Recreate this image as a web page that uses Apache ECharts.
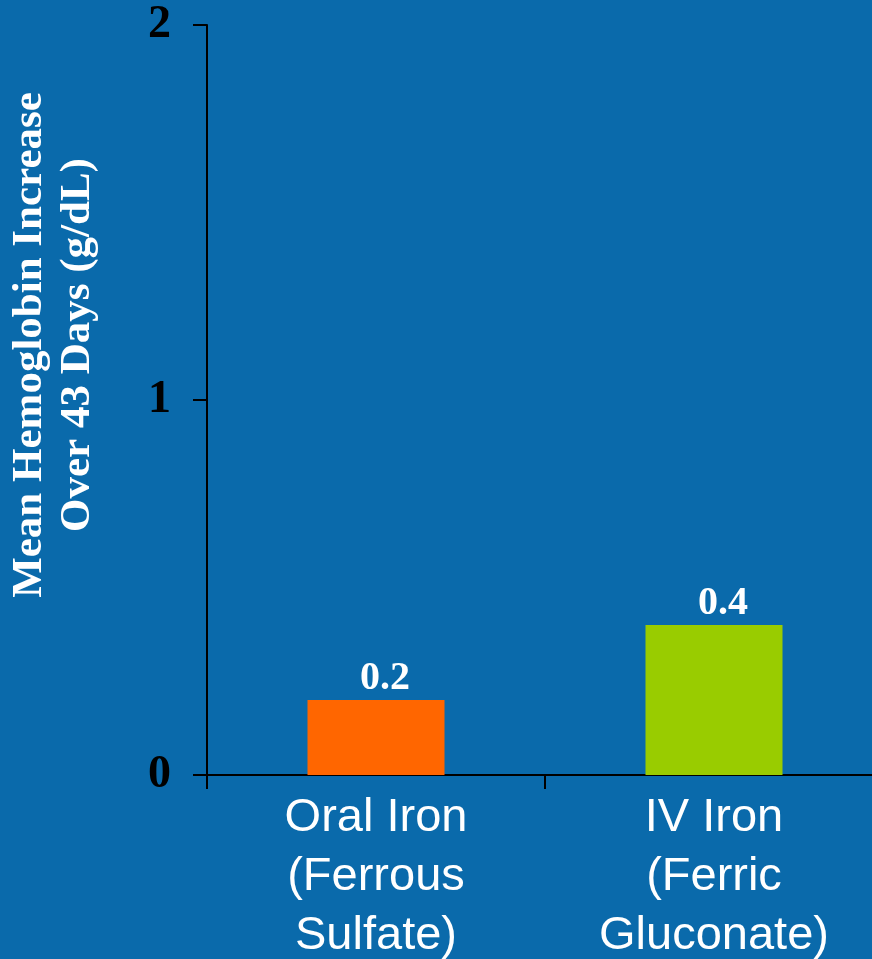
<!DOCTYPE html>
<html>
<head>
<meta charset="utf-8">
<script src="https://cdn.jsdelivr.net/npm/echarts@6/dist/echarts.min.js"></script>
<style>
html, body { margin: 0; padding: 0; background: #0a6aab; }
#chart { width: 872px; height: 959px; }
</style>
</head>
<body>
<div id="chart"></div>
<script>
const categories = ['Oral Iron\n(Ferrous\nSulfate)', 'IV Iron\n(Ferric\nGluconate)'];
const values = [0.2, 0.4];
const barColors = ['#ff6600', '#99cc00'];
const yTicks = [0, 1, 2];

const chart = echarts.init(document.getElementById('chart'));

let option = {
  backgroundColor: '#0a6aab',
  animation: false,
  grid: { left: 207, top: 25, width: 676, height: 750, outerBoundsMode: 'none', containLabel: false },
  graphic: [{
    type: 'text',
    x: 54, y: 345,
    rotation: Math.PI / 2,
    style: {
      text: 'Mean Hemoglobin Increase\nOver 43 Days (g/dL)',
      fill: '#ffffff',
      fontFamily: '"Liberation Serif", serif',
      fontWeight: 'bold',
      fontSize: 43,
      align: 'center',
      verticalAlign: 'middle',
      lineHeight: 48
    }
  }],
  xAxis: {
    type: 'category',
    data: categories,
    axisLine: { lineStyle: { color: '#000', width: 2 } },
    axisTick: { show: true, length: 14, lineStyle: { color: '#000', width: 2 } },
    axisLabel: {
      color: '#ffffff',
      fontFamily: '"Liberation Sans", Arial, sans-serif',
      fontSize: 47,
      lineHeight: 59,
      margin: 14,
      interval: 0
    }
  },
  yAxis: {
    type: 'value',
    min: 0, max: 2, interval: 1,
    splitLine: { show: false },
    axisLine: { show: true, lineStyle: { color: '#000', width: 2 } },
    axisTick: { show: true, inside: false, length: 14, lineStyle: { color: '#000', width: 2 } },
    axisLabel: {
      color: '#000',
      fontFamily: '"Liberation Serif", serif',
      fontWeight: 'bold',
      fontSize: 46,
      margin: 36,
      formatter: v => yTicks.includes(v) ? String(v) : ''
    }
  },
  series: [{
    type: 'bar',
    barWidth: 137,
    data: values.map((v, i) => ({ value: v, itemStyle: { color: barColors[i] } })),
    label: {
      show: true,
      position: 'top',
      distance: 1,
      offset: [9, 0],
      color: '#ffffff',
      fontFamily: '"Liberation Serif", serif',
      fontWeight: 'bold',
      fontSize: 40
    }
  }]
};

chart.setOption(option);
</script>
</body>
</html>
